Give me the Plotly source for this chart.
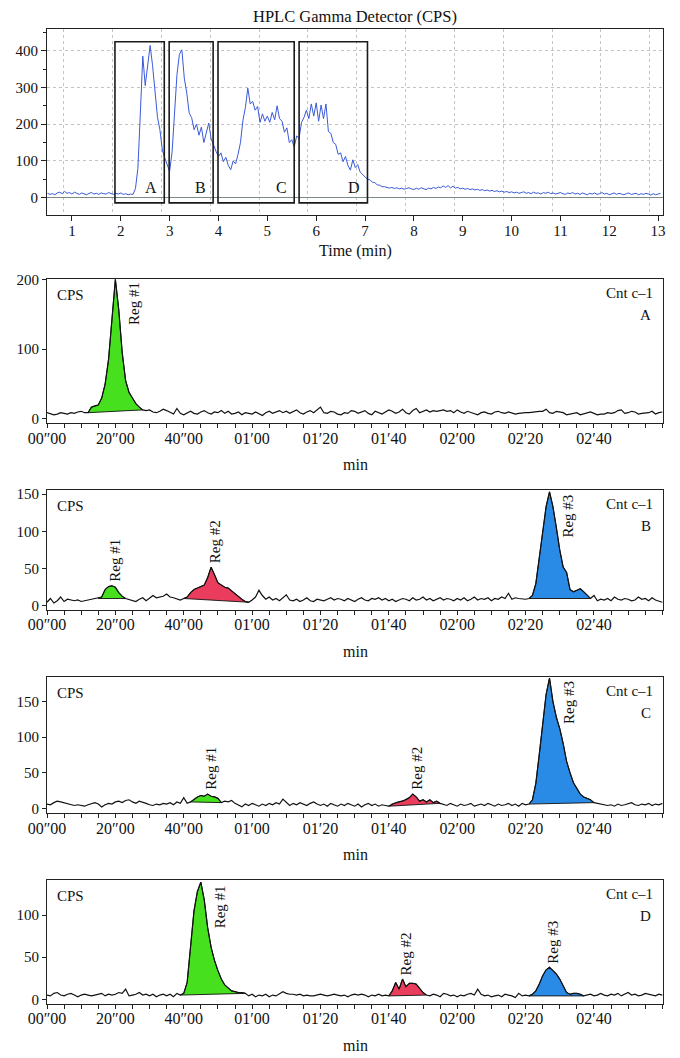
import plotly.graph_objects as go

# ---------------- top panel: HPLC gamma detector trace ----------------
hplc_t0 = 0.5      # min
hplc_dt = 0.05     # min
hplc_cps = [
    12, 9, 11, 8, 13, 15, 11, 17, 12, 14,
    10, 15, 12, 9, 13, 11, 8, 12, 14, 10,
    12, 9, 13, 11, 10, 14, 11, 9, 12, 10,
    13, 9, 11, 8, 10, 9, 25, 80, 230, 385,
    305, 365, 414, 360, 295, 220, 185, 130, 108, 92,
    72, 125, 245, 335, 390, 402, 325, 285, 230, 218,
    185, 200, 170, 192, 150, 178, 203, 160, 140, 126,
    112, 122, 98, 110, 88, 76, 100, 92, 118, 150,
    210, 245, 298, 255, 262, 238, 248, 205, 228, 208,
    222, 205, 232, 212, 250, 215, 208, 178, 190, 150,
    158, 138, 168, 162, 205, 218, 238, 215, 255, 222,
    258, 208, 252, 215, 255, 180, 175, 150, 145, 118,
    122, 98, 112, 88, 75, 103, 82, 90, 70, 64,
    58, 50, 49, 42, 41, 35, 34, 30, 30, 27,
    26, 28, 25, 27, 24, 26, 23, 25, 27, 24,
    22, 26, 23, 27, 25, 22, 26, 24, 28, 25,
    29, 27, 32, 28, 33, 27, 31, 26, 28, 24,
    26, 23, 25, 22, 24, 21, 23, 20, 22, 19,
    21, 18, 20, 17, 19, 16, 18, 15, 17, 14,
    16, 13, 15, 12, 14, 16, 12, 14, 11, 15,
    12, 13, 10, 14, 12, 15, 11, 13, 10, 12,
    14, 11, 9, 13, 11, 14, 10, 12, 9, 13,
    11, 8, 12, 10, 13, 9, 11, 14, 10, 12,
    8, 11, 13, 9, 12, 10, 8, 11, 13, 9,
    10, 12, 8, 11, 9, 12, 10, 7, 11, 8,
    10, 12,
]
hplc_time = [round(hplc_t0 + i * hplc_dt, 3) for i in range(len(hplc_cps))]

fraction_names = ["A", "B", "C", "D"]
fraction_start = [1.88, 2.99, 3.99, 5.65]   # min
fraction_end = [2.89, 3.89, 5.55, 7.05]     # min
fraction_low = -14                           # CPS
fraction_high = 424                          # CPS
top_xticks = list(range(1, 14))
top_yticks = [0, 100, 200, 300, 400]

# ---------------- lower panels: radio-chromatograms (1 s steps) ----------------
sec_step = 1
cps_A = [
    9, 8, 6, 7, 9, 8, 7, 9, 8, 10, 11, 9, 9, 17, 19, 20, 30, 50, 85, 141,
    200, 156, 95, 55, 38, 30, 22, 17, 13, 12, 13, 10, 9, 11, 14, 12, 10, 7, 15, 8,
    6, 9, 11, 8, 7, 10, 12, 9, 7, 10, 9, 12, 8, 11, 7, 8, 10, 6, 9, 8,
    7, 10, 8, 5, 9, 11, 8, 10, 12, 9, 11, 8, 10, 13, 9, 7, 10, 12, 9, 13,
    17, 9, 8, 11, 10, 7, 6, 9, 8, 12, 11, 8, 10, 12, 8, 6, 11, 9, 7, 10,
    13, 11, 8, 10, 14, 9, 7, 12, 15, 9, 11, 13, 10, 12, 11, 12, 13, 11, 12, 9,
    13, 10, 8, 11, 9, 7, 6, 9, 10, 8, 7, 10, 11, 9, 8, 10, 9, 7, 8, 9,
    9, 9, 10, 10, 11, 11, 14, 9, 8, 11, 10, 9, 6, 7, 8, 9, 6, 7, 8, 10,
    8, 6, 7, 7, 9, 8, 9, 12, 13, 8, 9, 11, 10, 7, 8, 8, 9, 11, 7, 9,
    10,
]
cps_B = [
    5, 10, 4, 7, 12, 6, 9, 8, 7, 8, 6, 7, 8, 9, 10, 10, 12, 22, 26, 27,
    25, 18, 13, 10, 9, 8, 6, 9, 11, 7, 10, 14, 11, 12, 13, 16, 12, 11, 9, 8,
    10, 12, 18, 22, 24, 26, 28, 38, 52, 42, 31, 28, 25, 24, 20, 16, 12, 9, 6, 5,
    8, 12, 21, 14, 9, 12, 8, 10, 7, 11, 15, 8, 7, 9, 6, 8, 11, 7, 6, 9,
    8, 7, 9, 11, 8, 10, 9, 7, 10, 8, 6, 9, 11, 8, 7, 10, 9, 11, 8, 10,
    7, 9, 6, 8, 10, 9, 7, 11, 8, 9, 12, 8, 10, 7, 9, 11, 8, 10, 9, 7,
    10, 8, 11, 7, 9, 12, 8, 10, 9, 11, 7, 10, 9, 12, 10, 17, 9, 11, 10, 9,
    9, 10, 14, 30, 65, 100, 133, 153, 133, 105, 75, 52, 45, 22, 19, 21, 23, 19, 14, 10,
    14, 7, 9, 8, 10, 7, 12, 9, 8, 10, 9, 7, 8, 12, 9, 10, 7, 11, 8, 6,
    5,
]
cps_C = [
    6, 5, 8, 10, 9, 8, 6, 5, 4, 5, 4, 3, 5, 7, 8, 6, 2, 5, 7, 6,
    9, 10, 8, 11, 12, 9, 7, 10, 9, 7, 5, 4, 6, 5, 7, 6, 8, 5, 9, 7,
    15, 7, 9, 13, 16, 18, 17, 20, 17, 16, 14, 8, 10, 9, 11, 7, 5, 2, 6, 4,
    7, 5, 3, 6, 4, 7, 5, 8, 6, 13, 9, 4, 7, 5, 8, 6, 4, 7, 9, 6,
    4, 6, 3, 7, 5, 3, 6, 4, 7, 5, 3, 6, 2, 5, 7, 4, 6, 3, 5, 4,
    3, 6, 8, 9, 10, 12, 15, 20, 16, 10, 12, 9, 12, 8, 10, 7, 6, 4, 7, 5,
    3, 6, 4, 5, 7, 3, 5, 6, 4, 7, 5, 3, 6, 4, 5, 7, 4, 6, 3, 7,
    5, 6, 12, 35, 75, 120, 160, 183, 150, 128, 112, 91, 66, 50, 36, 28, 20, 16, 14, 12,
    8, 7, 6, 5, 4, 5, 3, 6, 4, 5, 7, 8, 5, 4, 6, 5, 7, 4, 6, 5,
    7,
]
cps_D = [
    5, 4, 7, 8, 5, 4, 6, 7, 5, 3, 5, 6, 5, 4, 5, 6, 7, 4, 6, 5,
    6, 8, 7, 12, 4, 5, 6, 8, 5, 6, 4, 6, 3, 5, 6, 4, 6, 3, 7, 5,
    7, 20, 66, 105, 128, 139, 118, 85, 62, 46, 34, 24, 17, 13, 10, 9, 8, 8, 7, 4,
    6, 3, 5, 4, 6, 3, 5, 4, 7, 9, 7, 6, 6, 5, 6, 4, 5, 4, 4, 5,
    6, 5, 4, 5, 6, 5, 4, 5, 3, 5, 6, 5, 6, 5, 3, 5, 4, 6, 4, 5,
    4, 10, 20, 12, 24, 15, 19, 19, 18, 13, 8, 5, 4, 6, 5, 3, 7, 6, 4, 5,
    3, 5, 4, 6, 7, 5, 12, 6, 4, 5, 3, 4, 5, 3, 6, 5, 4, 2, 7, 4,
    5, 4, 6, 10, 18, 28, 35, 38, 34, 30, 24, 15, 8, 6, 7, 7, 6, 4, 5, 6,
    4, 5, 7, 5, 4, 6, 5, 7, 4, 6, 8, 5, 6, 4, 5, 7, 6, 5, 4, 6,
    5,
]
panel_letters = ["A", "B", "C", "D"]
panel_cps = [cps_A, cps_B, cps_C, cps_D]
panel_regions = [
    [(12, 28, "Reg #1")],
    [(15, 23, "Reg #1"), (40, 59, "Reg #2"), (141, 159, "Reg #3")],
    [(42, 51, "Reg #1"), (100, 115, "Reg #2"), (141, 160, "Reg #3")],
    [(39, 58, "Reg #1"), (100, 111, "Reg #2"), (141, 157, "Reg #3")],
]
panel_yticks = [[0, 100, 200], [0, 50, 100, 150], [0, 50, 100, 150], [0, 50, 100]]
panel_yrange = [[-6.2, 200], [-5.4, 155.4], [-7, 185], [-5.6, 141.6]]
region_colors = {"Reg #1": "#46e01e", "Reg #2": "#ea3d5e", "Reg #3": "#2a8be6"}
sec_tick_step = 5
sec_label_step = 20
sec_max = 180

# ---------------- layout constants ----------------
PAGE_OFF = 8                      # default body margin of the html page
W, H = 680 - PAGE_OFF, 1058 - PAGE_OFF
FONT = "Liberation Serif"


def fx(px):
    return (px - PAGE_OFF) / W


def fy(py):
    return 1 - (py - PAGE_OFF) / H


x_dom = [fx(47), fx(663)]
top_dom = [fy(215), fy(29.3)]
low_doms = [
    [fy(423.3), fy(279.3)],
    [fy(610), fy(490)],
    [fy(813.3), fy(676.7)],
    [fy(1004), fy(880)],
]
AX = "#222222"


def sec_label(t):
    if t < 60:
        return f"{t:02d}\u203300"
    return f"{t // 60:02d}\u2032{t % 60:02d}"


fig = go.Figure()

# top trace
fig.add_trace(go.Scatter(x=hplc_time, y=hplc_cps, mode="lines",
                         line=dict(color="#3a5ad8", width=1),
                         xaxis="x", yaxis="y", showlegend=False, hoverinfo="skip"))

shapes = []
annotations = []
for name, s, e in zip(fraction_names, fraction_start, fraction_end):
    shapes.append(dict(type="rect", xref="x", yref="y", x0=s, x1=e,
                       y0=fraction_low, y1=fraction_high,
                       line=dict(color="#1a1a1a", width=1.6), fillcolor="rgba(0,0,0,0)"))
    annotations.append(dict(xref="x", yref="y", x=e, y=0, text=name, showarrow=False,
                            xanchor="right", yanchor="bottom", xshift=-5, yshift=0,
                            font=dict(family=FONT, size=16, color="#111")))

annotations.append(dict(xref="paper", yref="paper", x=fx(355), y=fy(16),
                        text="HPLC Gamma Detector (CPS)", showarrow=False,
                        xanchor="center", yanchor="middle",
                        font=dict(family=FONT, size=16.5, color="#111")))
annotations.append(dict(xref="x domain", yref="y domain", x=0.5, y=0, yanchor="top",
                        yshift=-25, text="Time (min)", showarrow=False,
                        font=dict(family=FONT, size=16, color="#111")))

layout_axes = {}
layout_axes["xaxis"] = dict(domain=x_dom, anchor="y", range=[0.489, 13.10], automargin=False,
                            tickvals=top_xticks, ticks="outside", ticklen=5, tickcolor=AX,
                            ticklabelstandoff=-3,
                            showline=True, linecolor=AX, linewidth=1, mirror=True,
                            showgrid=False, zeroline=False,
                            minor=dict(tick0=0.83, dtick=1, showgrid=True, gridcolor="#c4c4c4",
                                       griddash="dot", gridwidth=1, ticks=""),
                            tickfont=dict(family=FONT, size=15, color="#111"))
layout_axes["yaxis"] = dict(domain=top_dom, anchor="x", range=[-47, 458], automargin=False,
                            tickvals=top_yticks, ticks="outside", ticklen=5, tickcolor=AX,
                            showline=True, linecolor=AX, linewidth=1, mirror=True,
                            showgrid=True, gridcolor="#c4c4c4", griddash="dot",
                            zeroline=True, zerolinecolor="#7c8a86", zerolinewidth=1,
                            minor=dict(dtick=50, ticks="outside", ticklen=3, tickcolor=AX,
                                       showgrid=False),
                            tickfont=dict(family=FONT, size=15, color="#111"))

sec_ticks = list(range(0, sec_max + 1, sec_tick_step))
sec_text = [sec_label(t) if (t % sec_label_step == 0 and t < sec_max) else "" for t in sec_ticks]

for k in range(4):
    n = k + 2
    xa, ya = f"x{n}", f"y{n}"
    cps = panel_cps[k]
    secs = [i * sec_step for i in range(len(cps))]
    ytop = panel_yrange[k][1]
    # filled regions
    for (s, e, lab) in panel_regions[k]:
        i0, i1 = s // sec_step, e // sec_step
        xs = secs[i0:i1 + 1] + [secs[i1], secs[i0]]
        ys = cps[i0:i1 + 1] + [cps[i1], cps[i0]]
        fig.add_trace(go.Scatter(x=xs, y=ys, mode="lines", fill="toself",
                                 fillcolor=region_colors[lab],
                                 line=dict(color="#111", width=0.9),
                                 xaxis=xa, yaxis=ya, showlegend=False, hoverinfo="skip"))
        seg = cps[i0:i1 + 1]
        pv = max(seg)
        pt = secs[i0 + seg.index(pv)]
        if pv > 0.6 * ytop:
            annotations.append(dict(xref=xa, yref=ya, x=pt + 5.5, y=pv, text=lab,
                                    textangle=-90, showarrow=False, xanchor="center",
                                    yanchor="top", yshift=-1,
                                    font=dict(family=FONT, size=15, color="#111")))
        else:
            annotations.append(dict(xref=xa, yref=ya, x=pt + 1, y=pv, text=lab,
                                    textangle=-90, showarrow=False, xanchor="center",
                                    yanchor="bottom", yshift=2,
                                    font=dict(family=FONT, size=15, color="#111")))
    fig.add_trace(go.Scatter(x=secs, y=cps, mode="lines",
                             line=dict(color="#111", width=1.2),
                             xaxis=xa, yaxis=ya, showlegend=False, hoverinfo="skip"))

    layout_axes[f"xaxis{n}"] = dict(domain=x_dom, anchor=ya, range=[0, 180.2], automargin=False,
                                    tickvals=sec_ticks, ticktext=sec_text,
                                    ticks="outside", ticklen=4, tickcolor=AX,
                                    ticklabelstandoff=-4,
                                    showline=True, linecolor=AX, linewidth=1, mirror=True,
                                    showgrid=False, zeroline=False,
                                    tickfont=dict(family=FONT, size=16, color="#111"))
    layout_axes[f"yaxis{n}"] = dict(domain=low_doms[k], anchor=xa, range=panel_yrange[k],
                                    automargin=False,
                                    tickvals=panel_yticks[k], ticks="outside", ticklen=4,
                                    tickcolor=AX, showline=True, linecolor=AX, linewidth=1,
                                    mirror=True, showgrid=False, zeroline=False,
                                    tickfont=dict(family=FONT, size=15, color="#111"))
    annotations.append(dict(xref=f"{xa} domain", yref=f"{ya} domain", x=0.013, y=1,
                            xanchor="left", yanchor="top", yshift=-6, text="CPS",
                            showarrow=False, font=dict(family=FONT, size=15, color="#111")))
    annotations.append(dict(xref=f"{xa} domain", yref=f"{ya} domain", x=0.987, y=1,
                            xanchor="right", yanchor="top", yshift=-4, text="Cnt c\u20131",
                            showarrow=False, font=dict(family=FONT, size=15, color="#111")))
    annotations.append(dict(xref=f"{xa} domain", yref=f"{ya} domain", x=0.983, y=1,
                            xanchor="right", yanchor="top", yshift=-26, text=panel_letters[k],
                            showarrow=False, font=dict(family=FONT, size=15, color="#111")))
    annotations.append(dict(xref=f"{xa} domain", yref=f"{ya} domain", x=0.5, y=0,
                            xanchor="center", yanchor="top", yshift=-31, text="min",
                            showarrow=False, font=dict(family=FONT, size=16, color="#111")))

fig.update_layout(width=W, height=H, margin=dict(l=0, r=0, t=0, b=0, autoexpand=False),
                  paper_bgcolor="white", plot_bgcolor="white",
                  font=dict(family=FONT, color="#111"),
                  shapes=shapes, annotations=annotations, showlegend=False,
                  **layout_axes)

fig.write_html("out.html")
